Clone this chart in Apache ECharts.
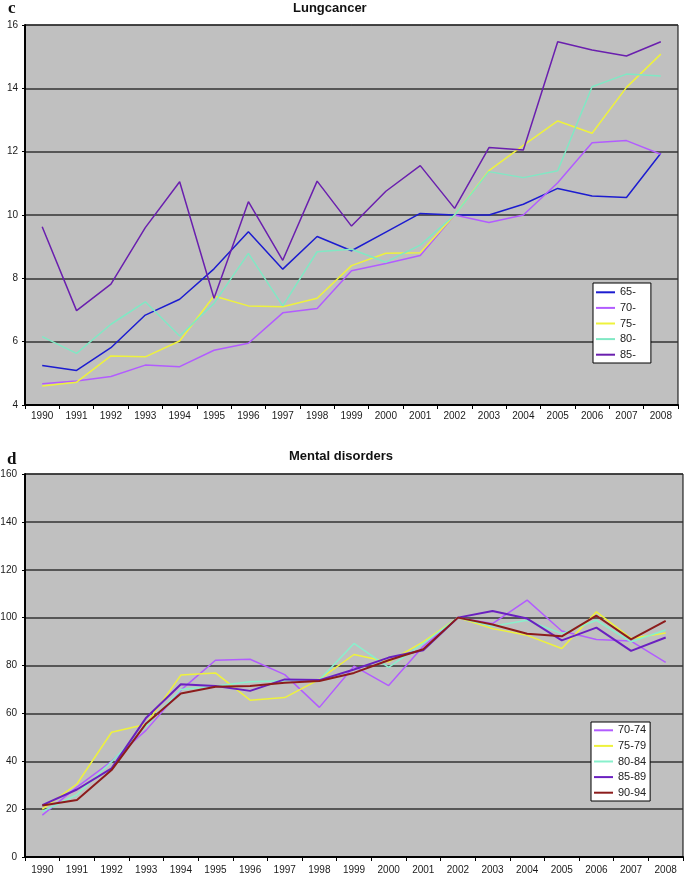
<!DOCTYPE html>
<html>
<head>
<meta charset="utf-8">
<script src="https://cdn.jsdelivr.net/npm/echarts@6/dist/echarts.min.js"></script>
<style>
  html, body { margin: 0; padding: 0; background: #fff; }
  #chart { width: 685px; height: 877px; }
</style>
</head>
<body>
<div id="chart"></div>
<script>
// ============ Data ============
const years = ['1990', '1991', '1992', '1993', '1994', '1995', '1996', '1997', '1998', '1999',
  '2000', '2001', '2002', '2003', '2004', '2005', '2006', '2007', '2008']

// c: Lungcancer
const lungNames = ['65-', '70-', '75-', '80-', '85-']
const lung65 = [5.25, 5.09, 5.81, 6.84, 7.34, 8.3, 9.47, 8.29, 9.32, 8.87, 9.46, 10.05, 10.0, 10.0, 10.34, 10.84, 10.6, 10.55, 11.95]
const lung70 = [4.67, 4.76, 4.9, 5.26, 5.21, 5.73, 5.95, 6.91, 7.05, 8.24, 8.47, 8.72, 10.0, 9.76, 10.0, 11.02, 12.28, 12.35, 11.92]
const lung75 = [4.6, 4.72, 5.55, 5.52, 6.02, 7.44, 7.13, 7.1, 7.37, 8.4, 8.79, 8.81, 10.0, 11.4, 12.2, 12.97, 12.58, 14.03, 15.08]
const lung80 = [6.16, 5.63, 6.55, 7.26, 6.18, 7.21, 8.79, 7.13, 8.84, 8.92, 8.51, 9.05, 10.0, 11.37, 11.18, 11.4, 14.05, 14.45, 14.39]
const lung85 = [9.63, 6.98, 7.82, 9.6, 11.05, 7.37, 10.42, 8.57, 11.07, 9.65, 10.75, 11.56, 10.21, 12.13, 12.05, 15.47, 15.21, 15.02, 15.47]

// d: Mental disorders
const mentalNames = ['70-74', '75-79', '80-84', '85-89', '90-94']
const m7074 = [17.5, 29.2, 40, 53, 69.7, 82.2, 82.6, 76.2, 62.5, 79.7, 71.6, 88, 100, 97.5, 107.3, 94.4, 90.9, 90.2, 81.3]
const m7579 = [20, 30.5, 52.1, 55.5, 76.0, 76.9, 65.5, 66.6, 74.2, 84.6, 81.5, 89.9, 100, 95.4, 92.6, 87.1, 102.4, 91.3, 93.6]
const m8084 = [19, 26, 39.8, 54.8, 70, 71.4, 73.2, 73.6, 73.9, 89.2, 79.2, 89.2, 100, 96.4, 98.9, 93.3, 98.9, 89.9, 94.8]
const m8589 = [21.7, 28.2, 37, 58.2, 72.2, 71.4, 69.4, 74.2, 73.9, 78.3, 83.3, 86.4, 100, 102.8, 99.6, 90.5, 95.8, 86.1, 91.7]
const m9094 = [21.5, 23.8, 36.3, 55.8, 68.3, 71.1, 71.4, 72.8, 73.5, 76.9, 82.2, 86.8, 100, 97.1, 93.3, 92.2, 100.8, 90.9, 98.6]

const lungColors = ['#1c1cd0', '#b25cff', '#eef23c', '#80e8c4', '#6a1fae']
const mentalColors = ['#b25cff', '#eef23c', '#88f0cc', '#6a20c0', '#8c1c1c']

// ============ Helpers ============
const sansFont = 'Liberation Sans, Arial, sans-serif'
const serifFont = 'Liberation Serif, DejaVu Serif, serif'

function makeX(gridIndex, margin) {
  return {
    type: 'category',
    gridIndex,
    data: years,
    boundaryGap: true,
    axisLine: { lineStyle: { color: '#000', width: 2 } },
    axisTick: { show: true, interval: 0, length: 4, lineStyle: { color: '#000' } },
    axisLabel: { interval: 0, fontSize: 10, color: '#1a1a1a', fontFamily: sansFont, margin },
    splitLine: { show: false },
  }
}

function makeY(gridIndex, min, max, interval, margin) {
  return {
    type: 'value',
    gridIndex,
    min,
    max,
    interval,
    axisLine: { show: true, lineStyle: { color: '#000', width: 2 } },
    axisTick: { show: true, length: 3, lineStyle: { color: '#000' } },
    axisLabel: { fontSize: 10, color: '#1a1a1a', fontFamily: sansFont, margin },
    splitLine: { show: true, lineStyle: { color: '#333', width: 1.5 } },
  }
}

function makeLine(name, data, color, idx, width) {
  return {
    name,
    type: 'line',
    data,
    xAxisIndex: idx,
    yAxisIndex: idx,
    symbol: 'none',
    color,
    lineStyle: { color, width },
    emphasis: { disabled: true },
  }
}

function makeLegend(names, left, top, padding) {
  return {
    data: names,
    orient: 'vertical',
    left,
    top,
    padding,
    itemGap: 3,
    itemWidth: 19,
    itemHeight: 2,
    itemTextGap: 2,
    icon: 'rect',
    backgroundColor: '#fff',
    borderColor: '#000',
    borderWidth: 1,
    textStyle: { fontSize: 11, color: '#222', fontFamily: sansFont, lineHeight: 12.6 },
  }
}

// ============ Chart ============
const chart = echarts.init(document.getElementById('chart'))

const lungSeries = [lung65, lung70, lung75, lung80, lung85]
const mentalSeries = [m7074, m7579, m8084, m8589, m9094]

chart.setOption({
  animation: false,
  title: [
    { text: 'Lungcancer', left: 293, top: 2, padding: 0,
      textStyle: { fontSize: 13, fontWeight: 'bold', color: '#111', fontFamily: sansFont } },
    { text: 'c', left: 8, top: 0, padding: 0,
      textStyle: { fontSize: 17, fontWeight: 'bold', color: '#111', fontFamily: serifFont } },
    { text: 'Mental disorders', left: 289, top: 450, padding: 0,
      textStyle: { fontSize: 13, fontWeight: 'bold', color: '#111', fontFamily: sansFont } },
    { text: 'd', left: 7, top: 451, padding: 0,
      textStyle: { fontSize: 17, fontWeight: 'bold', color: '#111', fontFamily: serifFont } },
  ],
  legend: [
    makeLegend(lungNames, 593, 283, [3, 15, 2, 3]),
    makeLegend(mentalNames, 591, 722, [2, 4, 2, 3]),
  ],
  grid: [
    { left: 25, top: 25, right: 7, bottom: 472, show: true, outerBoundsMode: 'none',
      backgroundColor: '#c0c0c0', borderColor: '#000', borderWidth: 1 },
    { left: 25, top: 474, right: 2, bottom: 20, show: true, outerBoundsMode: 'none',
      backgroundColor: '#c0c0c0', borderColor: '#000', borderWidth: 1 },
  ],
  xAxis: [makeX(0, 6), makeX(1, 8)],
  yAxis: [makeY(0, 4, 16, 2, 7), makeY(1, 0, 160, 20, 8)],
  series: [
    ...lungSeries.map((d, i) => makeLine(lungNames[i], d, lungColors[i], 0, 1.5)),
    ...mentalSeries.map((d, i) => makeLine(mentalNames[i], d, mentalColors[i], 1, i >= 3 ? 2 : 1.5)),
  ],
})
</script>
</body>
</html>
